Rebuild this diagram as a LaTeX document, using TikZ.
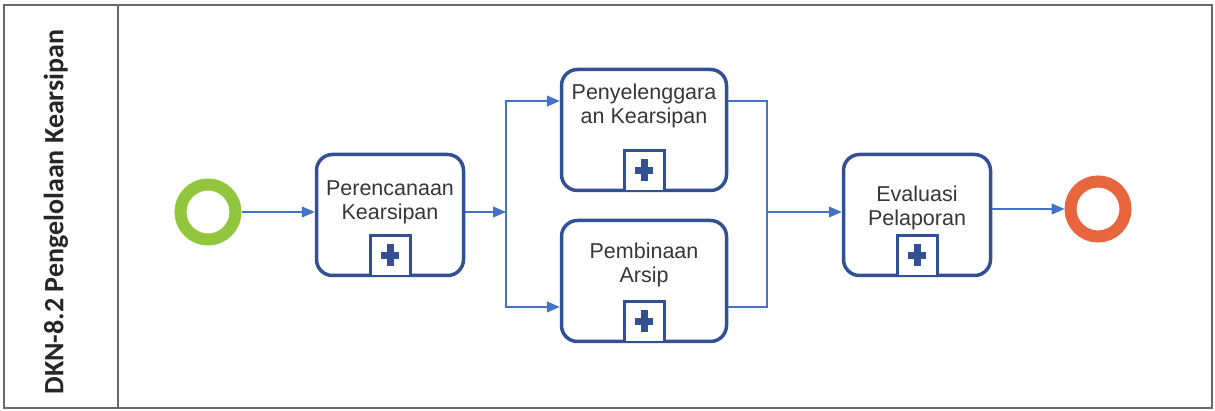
\documentclass[tikz,border=0pt]{standalone}
\usepackage{fontspec}
\setmainfont{Liberation Sans}
\newfontfamily\titlefont{Carlito}
\usetikzlibrary{arrows.meta}

\definecolor{taskblue}{RGB}{50,80,148}
\definecolor{flowblue}{RGB}{68,114,196}
\definecolor{startgreen}{RGB}{146,198,62}
\definecolor{endred}{RGB}{232,102,62}
\definecolor{labelgray}{RGB}{55,55,55}
\definecolor{framegray}{RGB}{105,105,105}

\tikzset{
  task/.style={draw=taskblue, fill=white, line width=3.5pt, rounded corners=16pt,
    minimum height=121pt, inner sep=0pt},
  tasktext/.style={align=center, text=labelgray, inner sep=0pt,
    font=\fontsize{21.5}{24}\selectfont},
  event/.style={circle, line width=12pt, minimum size=55pt, inner sep=0pt},
  flow/.style={draw=flowblue, line width=1.3pt, -{Triangle[length=13pt,width=11pt]}},
  flowline/.style={draw=flowblue, line width=1.3pt},
  plusmark/.pic={
    \fill[white] (-20pt,0pt) rectangle (20pt,40pt);
    \draw[taskblue, line width=3pt] (-20pt,0pt) |- (20pt,40pt) -- (20pt,0pt);
    \fill[taskblue] (-9pt,16.5pt) rectangle (9pt,23.5pt);
    \fill[taskblue] (-3.5pt,9pt) rectangle (3.5pt,31pt);
  }
}

\begin{document}
\begin{tikzpicture}[x=1pt, y=-1pt]
    \useasboundingbox (0,0) rectangle (1215,411);
    % frame and lane
    \draw[framegray, line width=1.5pt] (4,5) rectangle (1212,408);
    \draw[framegray, line width=1.5pt] (118,5) -- (118,408);
    \node[rotate=90, font=\titlefont\bfseries\fontsize{28}{32}\selectfont, text=black!85] (lane) at (56,212) {DKN-8.2 Pengelolaan Kearsipan};

    % events and tasks
    \node[event, draw=startgreen] (start) at (208,212) {};
    \node[task, minimum width=147pt] (plan) at (390,215) {};
    \node[task, minimum width=165pt] (hold) at (644,130) {};
    \node[task, minimum width=165pt] (bina) at (644,281) {};
    \node[task, minimum width=147pt] (eval) at (917,215) {};
    \node[event, draw=endred] (stop) at (1098,209) {};

    \node[tasktext] (plan-text) at ([yshift=13pt]plan.center) {Perencanaan\\Kearsipan};
    \node[tasktext] (hold-text) at ([yshift=24pt]hold.center) {Penyelenggara\\an Kearsipan};
    \node[tasktext] (bina-text) at ([yshift=16pt]bina.center) {Pembinaan\\Arsip};
    \node[tasktext] (eval-text) at ([yshift=7pt]eval.center) {Evaluasi\\Pelaporan};

    \pic at ([yshift=1.75pt]plan.south) {plusmark};
    \pic at ([yshift=1.75pt]hold.south) {plusmark};
    \pic at ([yshift=1.75pt]bina.south) {plusmark};
    \pic at ([yshift=1.75pt]eval.south) {plusmark};

    % sequence flows
    \coordinate (split) at (506,212);
    \coordinate (join) at (767,212);
    \draw[flow] (start) -- (start -| plan.west);
    \draw[flow] (plan.east |- split) -- (split);
    \draw[flow] (split) |- ([yshift=29pt]hold.west);
    \draw[flow] (split) |- ([yshift=-26pt]bina.west);
    \draw[flowline] ([yshift=29pt]hold.east) -| (join);
    \draw[flowline] ([yshift=-26pt]bina.east) -| (join);
    \draw[flow] (join) -- (join -| eval.west);
    \draw[flow] (eval.east |- stop) -- (stop);
\end{tikzpicture}
\end{document}
